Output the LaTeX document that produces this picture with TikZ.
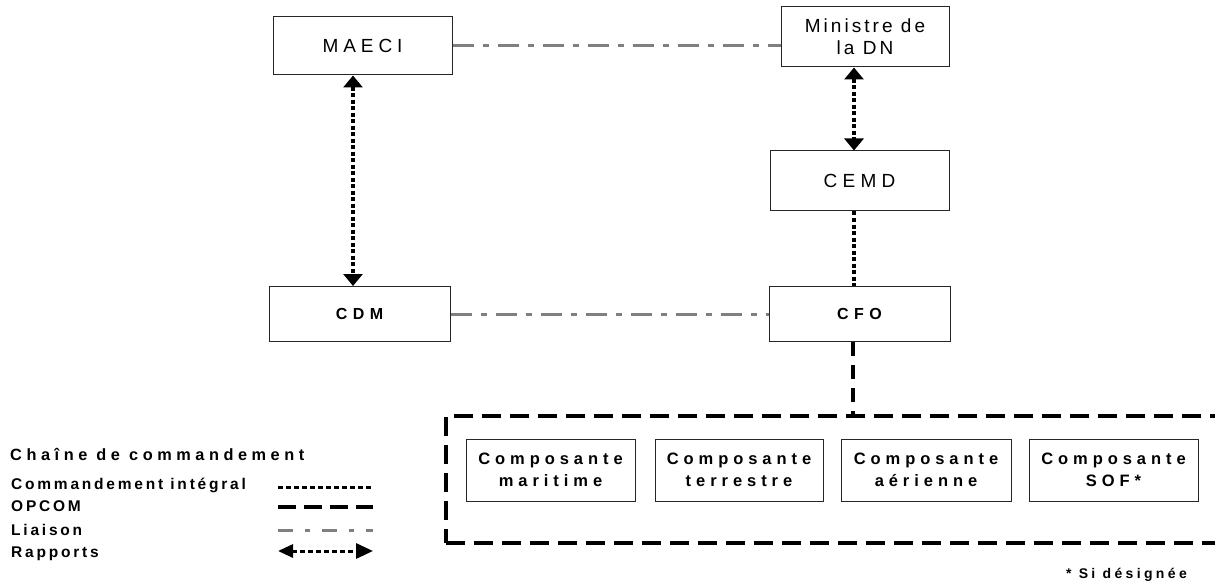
\documentclass[tikz,border=0pt]{standalone}
\usepackage{fontspec}
\setmainfont{Liberation Sans}
\usetikzlibrary{arrows.meta,calc}
\newcommand{\lsf}[3]{\fontsize{#1}{#2}\selectfont\addfontfeature{LetterSpace=#3}}
\begin{document}
\begin{tikzpicture}[x=1pt,y=-1pt,
 box/.style={draw=black!85, line width=1pt, inner sep=0pt, align=center, text=black},
 integral/.style={line width=4.5pt, dash pattern=on 4pt off 2.5pt},
 opcom/.style={line width=4pt, dash pattern=on 14pt off 9pt},
 grpbox/.style={draw, line width=4pt, dash pattern=on 19pt off 9pt, inner sep=0pt},
 liaison/.style={draw=black!50, line width=3pt, dash pattern=on 21pt off 9pt on 6pt off 9pt},
 rapport/.style={integral, {Triangle[length=12pt,width=19pt]}-{Triangle[length=12pt,width=19pt]}},
 lgint/.style={line width=3pt, dash pattern=on 5pt off 3pt},
 lgop/.style={line width=3.5pt, dash pattern=on 18pt off 8pt},
 lgli/.style={draw=black!50, line width=3pt, dash pattern=on 15pt off 12pt on 5pt off 12pt},
 lgrap/.style={lgint, {Triangle[length=15pt,width=13pt]}-{Triangle[length=17pt,width=15pt]}},
 lgtext/.style={anchor=base west, inner sep=0pt, font=\bfseries\lsf{15.5}{18}{18}},
]
\useasboundingbox (0,0) rectangle (1215,588);

% top boxes
\node[box, minimum width=179pt, minimum height=58pt, font=\lsf{19}{22}{26}] (maeci) at (362.5,46) {MAECI};
\node[box, minimum width=168pt, minimum height=60pt, font=\lsf{19}{22}{16}] (min) at (865,37) {Ministre de\\la DN};
\node[box, minimum width=179pt, minimum height=60pt, font=\lsf{19}{22}{28}] (cemd) at (859.5,181) {CEMD};
\node[box, minimum width=181pt, minimum height=55pt, font=\bfseries\lsf{16}{20}{34}] (cdm) at (359.5,314) {CDM};
\node[box, minimum width=181pt, minimum height=55pt, font=\bfseries\lsf{16}{20}{34}] (cfo) at (859.5,313.5) {CFO};

% group
\node[grpbox, minimum width=790pt, minimum height=127pt] (grp) at (841,479.5) {};
\node[box, minimum width=169pt, minimum height=62pt, font=\bfseries\lsf{16.5}{22.5}{30}] (c1) at (550.5,470) {Composante\\maritime};
\node[box, minimum width=168pt, minimum height=62pt, font=\bfseries\lsf{16.5}{22.5}{30}] (c2) at (739,470) {Composante\\terrestre};
\node[box, minimum width=170pt, minimum height=62pt, font=\bfseries\lsf{16.5}{22.5}{30}] (c3) at (926,470) {Composante\\aérienne};
\node[box, minimum width=169pt, minimum height=62pt, font=\bfseries\lsf{16.5}{22.5}{30}] (c4) at (1113.5,470) {Composante\\SOF*};

\node[anchor=base east, inner sep=0pt, font=\bfseries\lsf{14}{16}{24}] (si) at (1187,578) {* Si désignée};

% connectors
\draw[liaison] (maeci.east) -- (maeci.east -| min.west);
\draw[liaison] (cdm.east) -- (cdm.east -| cfo.west);
\draw[rapport] ([xshift=-9.5pt]maeci.south) -- ([xshift=-9.5pt]maeci.south |- cdm.north);
\draw[rapport] ([xshift=-11pt]min.south) -- ([xshift=-11pt]min.south |- cemd.north);
\draw[integral] ([xshift=-5.5pt]cemd.south) -- ([xshift=-5.5pt]cemd.south |- cfo.north);
\draw[opcom] ([xshift=-6.5pt]cfo.south) -- ([xshift=-6.5pt]cfo.south |- grp.north);

% legend
\node[anchor=base west, inner sep=0pt, font=\bfseries\lsf{16.3}{19}{28}] (lgt) at (10,460.7) {Chaîne de commandement};
\node[lgtext] (lg1) at (11,489) {Commandement intégral};
\node[lgtext] (lg2) at (11,511.7) {OPCOM};
\node[lgtext] (lg3) at (11,535) {Liaison};
\node[lgtext] (lg4) at (11,557.3) {Rapports};
\coordinate (l1a) at (278,487); \coordinate (l1b) at (373,487);
\coordinate (l2a) at (278,507); \coordinate (l2b) at (373,507);
\coordinate (l3a) at (278,530); \coordinate (l3b) at (373,530);
\coordinate (l4a) at (278,551); \coordinate (l4b) at (373,551);
\draw[lgint] (l1a) -- (l1b);
\draw[lgop] (l2a) -- (l2b);
\draw[lgli] (l3a) -- (l3b);
\draw[lgrap] (l4a) -- (l4b);
\end{tikzpicture}
\end{document}
